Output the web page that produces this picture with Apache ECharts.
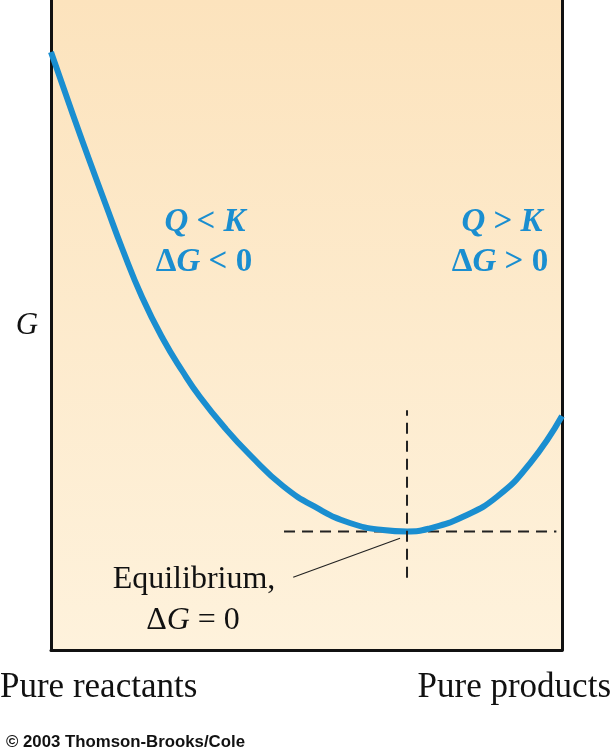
<!DOCTYPE html>
<html>
<head>
<meta charset="utf-8">
<script src="https://cdn.jsdelivr.net/npm/echarts@6/dist/echarts.min.js"></script>
<style>
  html, body { margin: 0; padding: 0; background: #ffffff; }
  #chart { width: 612px; height: 755px; }
</style>
</head>
<body>
<div id="chart"></div>
<script>
// Reaction progress (0 = pure reactants, 100 = pure products)
const progress = [0, 4.31, 7.63, 10.96, 13.89, 17.81, 21.92, 25.83, 29.16, 34.05, 38.94, 45.40, 52.05, 58.51, 64.97, 69.67, 74.17, 80.63, 87.28, 93.74, 100];
// Free energy G (arbitrary units)
const freeEnergy = [92.0, 82.31, 75.08, 68.00, 61.85, 54.31, 47.85, 42.77, 38.92, 34.15, 30.00, 25.23, 21.85, 19.54, 18.46, 18.23, 18.72, 20.51, 23.58, 28.72, 36.0];
// Equilibrium point
const equilibrium = [69.67, 18.23];
// Dashed guide extents
const hGuideX = [45.6, 98.9];
const vGuideG = [11.1, 36.9];
// Leader line from label to equilibrium
const leaderStart = [47.4, 11.2];
const leaderEnd = [68.3, 17.2];
// Axis labels
const xEndLabels = ['Pure reactants', 'Pure products'];
const yLabel = 'G';

const blue = '#1a8ed0';
const serif = '"Liberation Serif", "DejaVu Serif", serif';

const curveData = progress.map((x, i) => [x, freeEnergy[i]]);

function richLabel(text, x, y, size, weight, color, align) {
  return {
    type: 'text', x: x, y: y, z: 10,
    style: {
      text: text,
      font: weight + ' ' + size + 'px ' + serif,
      fill: color,
      align: align || 'center',
      verticalAlign: 'middle',
      rich: {
        i: { fontStyle: 'italic', fontWeight: weight, fontSize: size, fontFamily: serif, fill: color }
      }
    }
  };
}

const chart = echarts.init(document.getElementById('chart'));
chart.setOption({
  animation: false,
  backgroundColor: '#ffffff',
  grid: {
    left: 51, right: 50, top: 0, bottom: 105,
    show: true,
    borderWidth: 0,
    backgroundColor: new echarts.graphic.LinearGradient(0, 0, 0, 1, [
      { offset: 0, color: '#fce3bd' },
      { offset: 1, color: '#fef2dc' }
    ])
  },
  xAxis: {
    type: 'value', min: 0, max: 100,
    axisLine: { show: true, lineStyle: { color: '#111', width: 3 } },
    axisTick: { show: false }, axisLabel: { show: false }, splitLine: { show: false }
  },
  yAxis: [{
    type: 'value', min: 0, max: 100,
    axisLine: { show: true, onZero: false, lineStyle: { color: '#111', width: 3 } },
    axisTick: { show: false }, axisLabel: { show: false }, splitLine: { show: false }
  }, {
    type: 'value', min: 0, max: 100, position: 'right',
    axisLine: { show: true, onZero: false, lineStyle: { color: '#111', width: 3 } },
    axisTick: { show: false }, axisLabel: { show: false }, splitLine: { show: false }
  }],
  series: [
    {
      type: 'line',
      data: [[hGuideX[0], equilibrium[1]], [hGuideX[1], equilibrium[1]]],
      symbol: 'none',
      lineStyle: { color: '#222', width: 2, type: [11, 7] },
      z: 2
    },
    {
      type: 'line',
      data: curveData,
      smooth: 0.5,
      symbol: 'none',
      lineStyle: { color: blue, width: 6 },
      z: 3
    },
    {
      type: 'line',
      data: [[equilibrium[0], vGuideG[0]], [equilibrium[0], vGuideG[1]]],
      symbol: 'none',
      lineStyle: { color: '#222', width: 2, type: [11, 7] },
      z: 4
    },
    {
      type: 'line',
      data: [leaderStart, leaderEnd],
      symbol: 'none',
      lineStyle: { color: '#222', width: 1.2 },
      z: 4
    }
  ],
  graphic: [
    richLabel('{i|Q} < {i|K}', 205, 222, 33, 'bold', blue),
    richLabel('Δ{i|G} < 0', 204, 262, 33, 'bold', blue),
    richLabel('{i|Q} > {i|K}', 502, 222, 33, 'bold', blue),
    richLabel('Δ{i|G} > 0', 500, 262, 33, 'bold', blue),
    {
      type: 'text', x: 27, y: 326, z: 10,
      style: { text: yLabel, font: 'italic 31px ' + serif, fill: '#111', align: 'center', verticalAlign: 'middle' }
    },
    richLabel('Equilibrium,', 194, 580, 32, 'normal', '#111'),
    richLabel('Δ{i|G} = 0', 193, 621, 32, 'normal', '#111'),
    {
      type: 'text', x: 0, y: 688, z: 10,
      style: { text: xEndLabels[0], font: '35px ' + serif, fill: '#111', align: 'left', verticalAlign: 'middle' }
    },
    {
      type: 'text', x: 611, y: 688, z: 10,
      style: { text: xEndLabels[1], font: '35px ' + serif, fill: '#111', align: 'right', verticalAlign: 'middle' }
    },
    {
      type: 'text', x: 6, y: 742, z: 10,
      style: { text: '© 2003 Thomson-Brooks/Cole', font: 'bold 16.8px "Liberation Sans", Arial, sans-serif', fill: '#111', align: 'left', verticalAlign: 'middle' }
    }
  ]
});
</script>
</body>
</html>
